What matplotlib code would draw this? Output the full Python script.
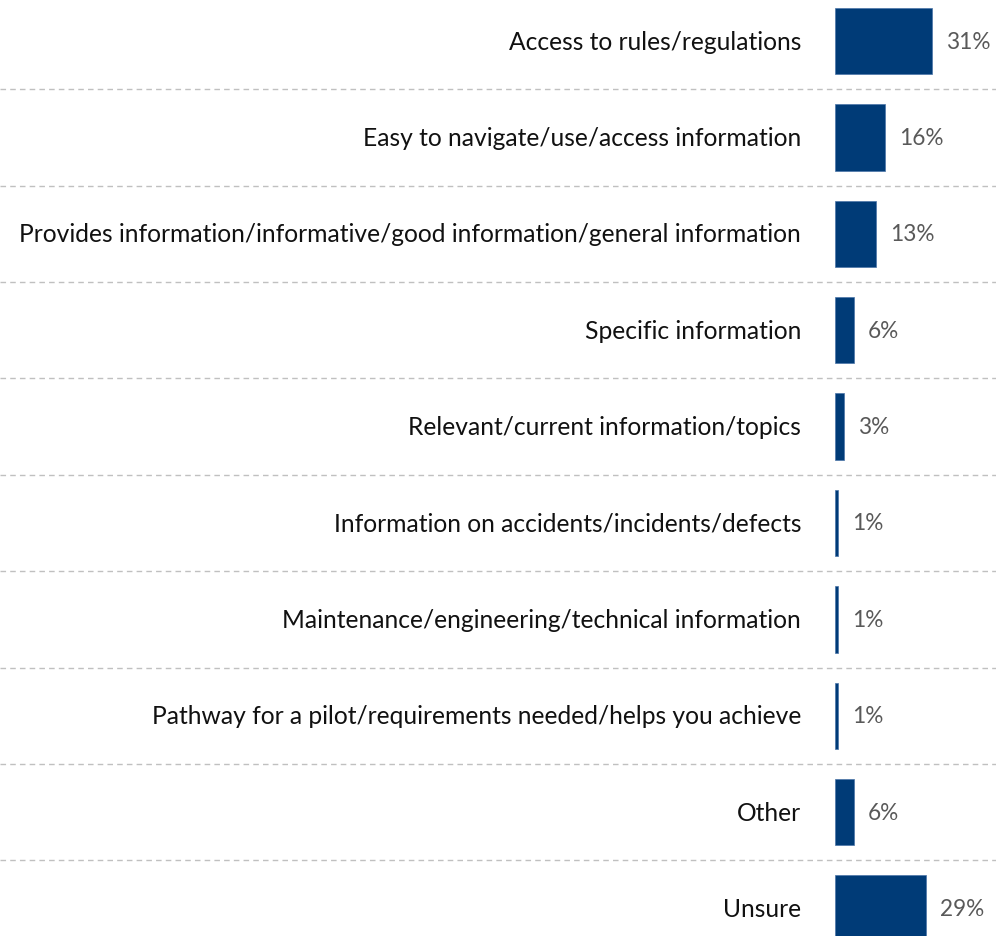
import matplotlib
matplotlib.use("Agg")
import matplotlib.pyplot as plt

categories = [
    "Access to rules/regulations",
    "Easy to navigate/use/access information",
    "Provides information/informative/good information/general information",
    "Specific information",
    "Relevant/current information/topics",
    "Information on accidents/incidents/defects",
    "Maintenance/engineering/technical information",
    "Pathway for a pilot/requirements needed/helps you achieve",
    "Other",
    "Unsure",
]
values = [31, 16, 13, 6, 3, 1, 1, 1, 6, 29]
value_labels = ["31%", "16%", "13%", "6%", "3%", "1%", "1%", "1%", "6%", "29%"]

bar_color = "#003B77"
px_per_pct = 3.13

plt.rcParams["font.family"] = ["Lato", "DejaVu Sans"]

fig = plt.figure(figsize=(9.96, 9.37), dpi=100)
ax = fig.add_axes([0, 0, 1, 1])

ypos = list(range(len(categories)))
ax.barh(ypos, values, height=0.69, color=bar_color, edgecolor="#4a74a8", linewidth=0.5)

# dashed separators between rows
for i in range(len(categories) - 1):
    ax.axhline(i + 0.5, color="#c0c0c0", linestyle=(0, (4, 3)), linewidth=1)

for y, cat, v, lab in zip(ypos, categories, values, value_labels):
    ax.annotate(cat, (0, y), xytext=(-34 * 0.72, 0), textcoords="offset points",
                ha="right", va="center", fontsize=17.7, color="#111111")
    ax.annotate(lab, (v, y), xytext=(14 * 0.72, 0), textcoords="offset points",
                ha="left", va="center", fontsize=16.3, color="#595959")

ax.set_xlim(-835 / px_per_pct, 161 / px_per_pct)
ax.set_ylim((937 - 42) / 96.4, -42 / 96.4)
ax.axis("off")

fig.savefig("out.png", dpi=100)
